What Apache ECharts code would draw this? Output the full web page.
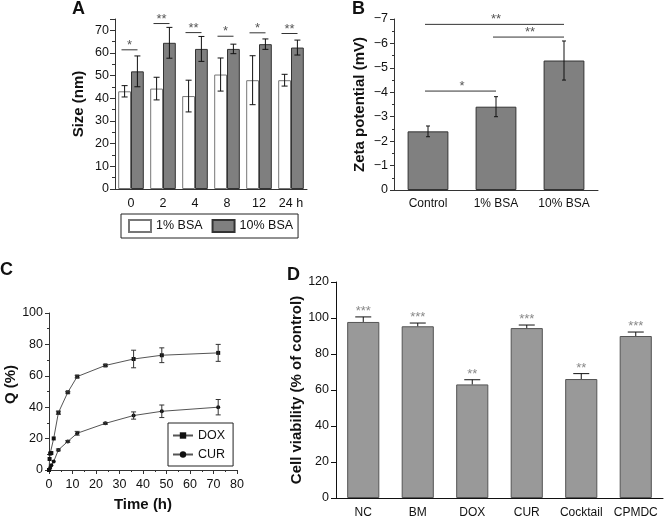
<!DOCTYPE html>
<html>
<head>
<meta charset="utf-8">
<script src="https://cdn.jsdelivr.net/npm/echarts@6/dist/echarts.min.js"></script>
<style>html,body{margin:0;padding:0;background:#fff}#c{width:664px;height:519px}</style>
</head>
<body>
<div id="c"></div>
<script>
// ---- Panel A data ----
const catsA = ['0', '2', '4', '8', '12', '24 h'];
const bsa1 = [43.1, 44.3, 41.0, 50.5, 48.0, 48.0];
const bsa1Err = [2.5, 5.0, 7.0, 7.3, 10.8, 2.6];
const bsa10 = [51.9, 64.5, 61.8, 61.8, 63.9, 62.4];
const bsa10Err = [6.8, 6.8, 5.5, 2.1, 2.3, 3.3];
const sigAY = [61.4, 73.0, 69.0, 67.4, 68.9, 68.6];
const sigALabels = ['*', '**', '**', '*', '*', '**'];
const yTicksA = [0, 10, 20, 30, 40, 50, 60, 70];

// ---- Panel B data ----
const catsB = ['Control', '1% BSA', '10% BSA'];
const zeta = [-2.4, -3.41, -5.3];
const zetaErr = [0.22, 0.41, 0.8];
const sigBFrom = [0, 1, 0];
const sigBTo = [1, 2, 2];
const sigBY = [-4.05, -6.26, -6.78];
const sigBLabels = ['*', '**', '**'];

// ---- Panel C data ----
const timeDOX = [0, 0.25, 0.5, 1, 2, 4, 8, 12, 24, 36, 48, 72];
const qDOX = [0, 7, 10.5, 10.8, 20.1, 36.5, 49.5, 59.5, 66.6, 70.7, 73.1, 74.6];
const errDOX = [0, 0, 0, 0, 0, 1, 0.5, 0.8, 0.6, 5.6, 4.7, 5.4];
const timeCUR = [0, 0.5, 1, 2, 4, 8, 12, 24, 36, 48, 72];
const qCUR = [0, 1.3, 3, 5.4, 12.8, 18.2, 23.4, 29.7, 34.7, 37.4, 40.0];
const errCUR = [0, 0, 0, 0, 0.6, 0.6, 1.2, 0.6, 2.3, 4.0, 4.9];

// ---- Panel D data ----
const catsD = ['NC', 'BM', 'DOX', 'CUR', 'Cocktail', 'CPMDC'];
const viab = [97.8, 95.4, 63.1, 94.4, 66.1, 90.0];
const viabErr = [2.8, 1.8, 2.6, 1.7, 3.0, 2.2];
const viabStars = ['***', '***', '**', '***', '**', '***'];

const FONT = '"Liberation Sans", Arial, Helvetica, sans-serif';
const AX = '#333';

function errRenderCat(capW, upOnly) {
  return function (params, api) {
    const x = api.value(0), y = api.value(1), e = api.value(2), side = api.value(3);
    const band = api.size([1, 0])[0];
    const c = api.coord([x, y]);
    const cx = c[0] + side * band * 0.2;
    const top = api.coord([x, y + (y < 0 ? -e : e)])[1];
    const bot = upOnly ? c[1] : api.coord([x, y - (y < 0 ? -e : e)])[1];
    const st = { stroke: '#111', lineWidth: 1 };
    const ch = [
      { type: 'line', shape: { x1: cx, y1: top, x2: cx, y2: bot }, style: st },
      { type: 'line', shape: { x1: cx - capW / 2, y1: top, x2: cx + capW / 2, y2: top }, style: st }
    ];
    if (!upOnly) ch.push({ type: 'line', shape: { x1: cx - capW / 2, y1: bot, x2: cx + capW / 2, y2: bot }, style: st });
    return { type: 'group', children: ch };
  };
}
function errRenderVal(capW) {
  return function (params, api) {
    const x = api.value(0), y = api.value(1), e = api.value(2);
    if (!e) return null;
    const c = api.coord([x, y]);
    const top = api.coord([x, y + e])[1], bot = api.coord([x, y - e])[1];
    const st = { stroke: '#333', lineWidth: 1 };
    return { type: 'group', children: [
      { type: 'line', shape: { x1: c[0], y1: top, x2: c[0], y2: bot }, style: st },
      { type: 'line', shape: { x1: c[0] - capW / 2, y1: top, x2: c[0] + capW / 2, y2: top }, style: st },
      { type: 'line', shape: { x1: c[0] - capW / 2, y1: bot, x2: c[0] + capW / 2, y2: bot }, style: st }
    ] };
  };
}

const chart = echarts.init(document.getElementById('c'), null, { renderer: 'canvas' });

const option = {
  animation: false,
  backgroundColor: '#fff',
  textStyle: { fontFamily: FONT },
  title: [
    { text: 'A', left: 72, top: 0, padding: 0, textStyle: { fontSize: 18, fontWeight: 'bold', color: '#111', fontFamily: FONT } },
    { text: 'B', left: 352, top: 0, padding: 0, textStyle: { fontSize: 18, fontWeight: 'bold', color: '#111', fontFamily: FONT } },
    { text: 'C', left: 0, top: 261, padding: 0, textStyle: { fontSize: 18, fontWeight: 'bold', color: '#111', fontFamily: FONT } },
    { text: 'D', left: 287, top: 266, padding: 0, textStyle: { fontSize: 18, fontWeight: 'bold', color: '#111', fontFamily: FONT } }
  ],
  legend: [
    {
      data: ['1% BSA', '10% BSA'], left: 121, top: 214, orient: 'horizontal',
      icon: 'rect', itemWidth: 22, itemHeight: 12, itemGap: 9,
      padding: [5, 5, 5, 7], borderColor: '#222', borderWidth: 1,
      textStyle: { fontSize: 12.5, color: '#111', fontFamily: FONT, padding: [0, 0, 0, 0] }
    },
    {
      data: ['DOX', 'CUR'], left: 168, top: 423, orient: 'vertical',
      itemWidth: 20, itemHeight: 8, itemGap: 6,
      padding: [6, 8, 5, 4], borderColor: '#222', borderWidth: 1,
      textStyle: { fontSize: 12.5, color: '#111', fontFamily: FONT }
    }
  ],
  grid: [
    { left: 115, top: 19, width: 192, height: 170 },
    { left: 394, top: 19, width: 204, height: 171 },
    { left: 49, top: 313, width: 188, height: 157 },
    { left: 336, top: 282, width: 327, height: 216 }
  ],
  xAxis: [
    { gridIndex: 0, type: 'category', data: catsA,
      axisLine: { lineStyle: { color: AX } }, axisTick: { alignWithLabel: true, length: 4, lineStyle: { color: AX } },
      axisLabel: { color: '#111', fontSize: 12.5, margin: 8, interval: 0 } },
    { gridIndex: 1, type: 'category', data: catsB,
      axisLine: { lineStyle: { color: AX } }, axisTick: { alignWithLabel: true, length: 4, lineStyle: { color: AX } },
      axisLabel: { color: '#111', fontSize: 12, margin: 8, interval: 0 } },
    { gridIndex: 2, type: 'value', min: 0, max: 80, interval: 10,
      name: 'Time (h)', nameLocation: 'middle', nameGap: 27,
      nameTextStyle: { fontSize: 15, fontWeight: 'bold', color: '#111' },
      axisLine: { lineStyle: { color: AX } }, axisTick: { length: 4, lineStyle: { color: AX } },
      minorTick: { show: true, splitNumber: 2, length: 2, lineStyle: { color: AX } },
      splitLine: { show: false },
      axisLabel: { color: '#111', fontSize: 12.5, margin: 8 } },
    { gridIndex: 3, type: 'category', data: catsD,
      axisLine: { lineStyle: { color: '#111' } }, axisTick: { alignWithLabel: true, length: 5, lineStyle: { color: '#111' } },
      axisLabel: { color: '#111', fontSize: 12, margin: 9, interval: 0 } }
  ],
  yAxis: [
    { gridIndex: 0, type: 'value', min: 0, max: 75, interval: 10,
      name: 'Size (nm)', nameLocation: 'middle', nameGap: 29,
      nameTextStyle: { fontSize: 15, fontWeight: 'bold', color: '#111' },
      axisLine: { show: true, lineStyle: { color: AX } }, axisTick: { show: true, length: 5, lineStyle: { color: AX } },
      minorTick: { show: true, splitNumber: 2, length: 3, lineStyle: { color: AX } },
      splitLine: { show: false },
      axisLabel: { color: '#111', fontSize: 12.5, margin: 6, showMaxLabel: false,
        formatter: v => (yTicksA.indexOf(v) >= 0 ? String(v) : '') } },
    { gridIndex: 1, type: 'value', min: -7, max: 0, interval: 1, inverse: true,
      name: 'Zeta potential (mV)', nameLocation: 'middle', nameGap: 27,
      nameTextStyle: { fontSize: 15, fontWeight: 'bold', color: '#111' },
      axisLine: { show: true, lineStyle: { color: AX } }, axisTick: { show: true, length: 4, lineStyle: { color: AX } },
      minorTick: { show: true, splitNumber: 2, length: 2, lineStyle: { color: AX } },
      splitLine: { show: false },
      axisLabel: { color: '#111', fontSize: 12.5, margin: 6,
        formatter: v => (v === 0 ? '0' : '\u2212' + Math.abs(v)) } },
    { gridIndex: 2, type: 'value', min: 0, max: 100, interval: 20,
      name: 'Q (%)', nameLocation: 'middle', nameGap: 31,
      nameTextStyle: { fontSize: 15, fontWeight: 'bold', color: '#111', padding: [0, 0, 0, 14] },
      axisLine: { show: true, lineStyle: { color: AX } }, axisTick: { show: true, length: 4, lineStyle: { color: AX } },
      minorTick: { show: true, splitNumber: 2, length: 2, lineStyle: { color: AX } },
      splitLine: { show: false },
      axisLabel: { color: '#111', fontSize: 12.5, margin: 6 } },
    { gridIndex: 3, type: 'value', min: 0, max: 120, interval: 20,
      name: 'Cell viability (% of control)', nameLocation: 'middle', nameGap: 28,
      nameTextStyle: { fontSize: 15, fontWeight: 'bold', color: '#111' },
      axisLine: { show: true, lineStyle: { color: '#111' } }, axisTick: { show: true, length: 5, lineStyle: { color: '#111' } },
      splitLine: { show: false },
      axisLabel: { color: '#111', fontSize: 12.5, margin: 7 } }
  ],
  series: [
    // Panel A bars
    { name: '1% BSA', type: 'bar', xAxisIndex: 0, yAxisIndex: 0, data: bsa1,
      barGap: '0%', barCategoryGap: '20%',
      itemStyle: { color: '#ffffff', borderColor: '#777', borderWidth: 1 } },
    { name: '10% BSA', type: 'bar', xAxisIndex: 0, yAxisIndex: 0, data: bsa10,
      barGap: '0%', barCategoryGap: '20%',
      itemStyle: { color: '#7f7f7f', borderColor: '#333', borderWidth: 1 } },
    { type: 'custom', xAxisIndex: 0, yAxisIndex: 0, silent: true, z: 5,
      data: bsa1.map((v, i) => [i, v, bsa1Err[i], -1]), renderItem: errRenderCat(6, false) },
    { type: 'custom', xAxisIndex: 0, yAxisIndex: 0, silent: true, z: 5,
      data: bsa10.map((v, i) => [i, v, bsa10Err[i], 1]), renderItem: errRenderCat(6, false) },
    { type: 'custom', xAxisIndex: 0, yAxisIndex: 0, silent: true, z: 5,
      data: sigAY.map((v, i) => [i, v]),
      renderItem: function (params, api) {
        const i = api.value(0), y = api.value(1);
        const band = api.size([1, 0])[0];
        const c = api.coord([i, y]);
        const cx = c[0] - 1.5;
        return { type: 'group', children: [
          { type: 'line', shape: { x1: cx - band * 0.25, y1: c[1], x2: cx + band * 0.25, y2: c[1] }, style: { stroke: '#333', lineWidth: 1 } },
          { type: 'text', style: { text: sigALabels[params.dataIndex], x: cx, y: c[1] + 2, align: 'center', verticalAlign: 'bottom', fill: '#555', fontSize: 13, fontFamily: FONT } }
        ] };
      } },
    // Panel B bars
    { name: 'Zeta', type: 'bar', xAxisIndex: 1, yAxisIndex: 1, data: zeta, barWidth: '60%',
      itemStyle: { color: '#808080', borderColor: '#333', borderWidth: 1 } },
    { type: 'custom', xAxisIndex: 1, yAxisIndex: 1, silent: true, z: 5,
      data: zeta.map((v, i) => [i, v, zetaErr[i], 0]), renderItem: errRenderCat(4, false) },
    { type: 'custom', xAxisIndex: 1, yAxisIndex: 1, silent: true, z: 5,
      data: sigBY.map((v, i) => [sigBFrom[i], sigBTo[i], v]),
      renderItem: function (params, api) {
        const a = api.value(0), b = api.value(1), y = api.value(2);
        const p1 = api.coord([a, y]), p2 = api.coord([b, y]);
        return { type: 'group', children: [
          { type: 'line', shape: { x1: p1[0] - 3, y1: p1[1], x2: p2[0], y2: p2[1] }, style: { stroke: '#333', lineWidth: 1 } },
          { type: 'text', style: { text: sigBLabels[params.dataIndex], x: (p1[0] + p2[0]) / 2, y: p1[1] + 2, align: 'center', verticalAlign: 'bottom', fill: '#555', fontSize: 13, fontFamily: FONT } }
        ] };
      } },
    // Panel C lines
    { name: 'DOX', type: 'line', xAxisIndex: 2, yAxisIndex: 2,
      data: timeDOX.map((t, i) => [t, qDOX[i]]),
      symbol: 'rect', symbolSize: 4, showSymbol: true,
      lineStyle: { color: '#555', width: 1 }, itemStyle: { color: '#111' } },
    { name: 'CUR', type: 'line', xAxisIndex: 2, yAxisIndex: 2,
      data: timeCUR.map((t, i) => [t, qCUR[i]]),
      symbol: 'circle', symbolSize: 4, showSymbol: true,
      lineStyle: { color: '#555', width: 1 }, itemStyle: { color: '#111' } },
    { type: 'custom', xAxisIndex: 2, yAxisIndex: 2, silent: true, z: 5,
      data: timeDOX.map((t, i) => [t, qDOX[i], errDOX[i]]), renderItem: errRenderVal(5) },
    { type: 'custom', xAxisIndex: 2, yAxisIndex: 2, silent: true, z: 5,
      data: timeCUR.map((t, i) => [t, qCUR[i], errCUR[i]]), renderItem: errRenderVal(5) },
    // Panel D bars
    { name: 'Viability', type: 'bar', xAxisIndex: 3, yAxisIndex: 3, data: viab, barWidth: '59%',
      itemStyle: { color: '#999999', borderColor: '#555', borderWidth: 1 } },
    { type: 'custom', xAxisIndex: 3, yAxisIndex: 3, silent: true, z: 5,
      data: viab.map((v, i) => [i, v, viabErr[i], 0]), renderItem: errRenderCat(16, true) },
    { type: 'custom', xAxisIndex: 3, yAxisIndex: 3, silent: true, z: 5,
      data: viab.map((v, i) => [i, v + viabErr[i]]),
      renderItem: function (params, api) {
        const c = api.coord([api.value(0), api.value(1)]);
        return { type: 'text', style: { text: viabStars[params.dataIndex], x: c[0], y: c[1] + 1, align: 'center', verticalAlign: 'bottom', fill: '#888', fontSize: 13, fontFamily: FONT } };
      } }
  ]
};
chart.setOption(option);
</script>
</body>
</html>
